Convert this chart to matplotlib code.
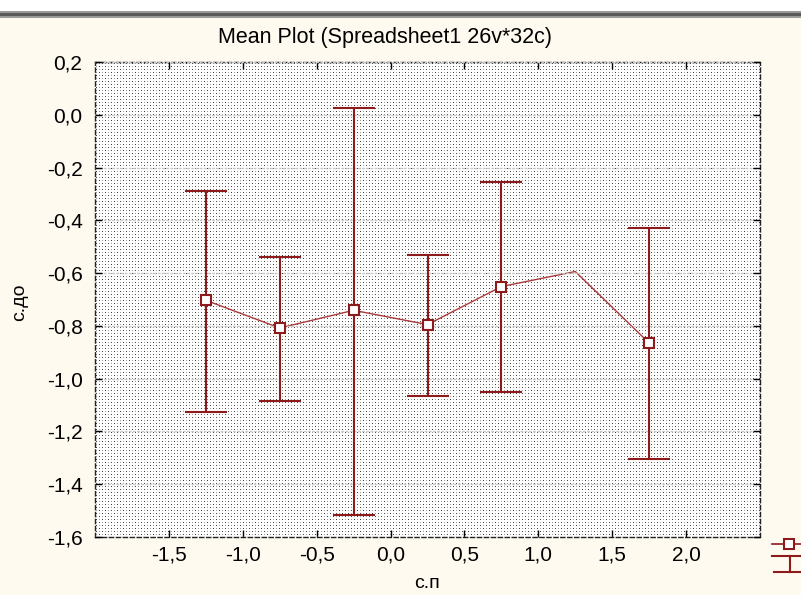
import numpy as np
import matplotlib
matplotlib.use("Agg")
import matplotlib.pyplot as plt
from matplotlib.lines import Line2D
from matplotlib.patches import Rectangle
from matplotlib.ticker import FuncFormatter

# group midpoints of c.п and mean of c.до with 95% limits
x_mid = [-1.25, -0.75, -0.25, 0.25, 0.75, 1.25, 1.75]
means = [-0.703, -0.808, -0.741, -0.795, -0.651, -0.594, -0.865]
upper = [-0.287, -0.540, 0.025, -0.531, -0.256, np.nan, -0.430]
lower = [-1.127, -1.085, -1.517, -1.065, -1.050, np.nan, -1.306]

x_ticks = [-1.5, -1.0, -0.5, 0.0, 0.5, 1.0, 1.5, 2.0]
y_ticks = [0.2, 0.0, -0.2, -0.4, -0.6, -0.8, -1.0, -1.2, -1.4, -1.6]

title = "Mean Plot (Spreadsheet1 26v*32c)"
x_name = "с.п"
y_name = "с.до"

plt.rcParams["font.family"] = ["Liberation Sans", "DejaVu Sans"]
plt.rcParams["font.size"] = 15

red = "#8e1b1b"
W, H = 801, 595
fig = plt.figure(figsize=(W / 100, H / 100), dpi=100, facecolor="#fffaf0")

# window chrome on top
fig.patches.append(Rectangle((0, 1 - 11 / H), 1, 11 / H, transform=fig.transFigure,
                             facecolor="white", edgecolor="none"))
fig.patches.append(Rectangle((0, 1 - 18 / H), 1, 7 / H, transform=fig.transFigure,
                             facecolor="#9a9a9a", edgecolor="none"))
fig.patches.append(Rectangle((0, 1 - 16 / H), 1, 3 / H, transform=fig.transFigure,
                             facecolor="#5a5a5a", edgecolor="none"))

left, right, top, bottom = 95, 760, 62, 537
ax = fig.add_axes([left / W, 1 - bottom / H, (right - left) / W, (bottom - top) / H])
ax.set_xlim(-2.0, 2.5)
ax.set_ylim(-1.6, 0.2)

# dotted background texture
ph, pw = bottom - top, right - left
tex = np.ones((ph, pw, 3))
yy, xx = np.mgrid[0:ph, 0:pw]
dots = (yy % 3 == 1) & (xx % 3 == 1)
dark = dots & (((yy // 3) + (xx // 3)) % 2 == 0)
light = dots & ~dark
tex[dark] = 0.25
tex[light] = 0.62
ax.imshow(tex, extent=(-2.0, 2.5, -1.6, 0.2), aspect="auto",
          interpolation="nearest", zorder=0)

ax.grid(axis="y", color="#c8c8c8", linestyle=(0, (2, 1)), linewidth=1, zorder=1)
ax.set_axisbelow(False)

m = np.array(means)
up = np.array(upper)
lo = np.array(lower)
ax.plot(x_mid, means, color="#a83a3a", linewidth=1, zorder=2)
ax.errorbar(x_mid, means, yerr=[m - lo, up - m], fmt="none", ecolor=red,
            elinewidth=1.5, capsize=15, capthick=1.5, zorder=3)
has_err = ~np.isnan(up)
ax.plot(np.array(x_mid)[has_err], m[has_err], linestyle="none", marker="s",
        markersize=7, markerfacecolor="white", markeredgecolor=red,
        markeredgewidth=1.5, zorder=4)

comma = FuncFormatter(lambda v, p: f"{v:.1f}".replace(".", ","))
ax.set_xticks(x_ticks)
ax.set_yticks(y_ticks)
ax.xaxis.set_major_formatter(comma)
ax.yaxis.set_major_formatter(comma)
ax.tick_params(direction="in", top=True, right=True, length=5, width=1,
               labelsize=15, colors="black")
ax.tick_params(axis="x", pad=6)
ax.tick_params(axis="y", pad=9)

for s in ax.spines.values():
    s.set_linestyle((0, (3, 2)))
    s.set_linewidth(1)
    s.set_color("#222222")

fig.text(385 / W, 1 - 38 / H, title, ha="center", va="center", fontsize=15.5)
fig.text(427 / W, 1 - 583 / H, x_name, ha="center", va="center", fontsize=14)
fig.text(20 / W, 1 - 302 / H, y_name, ha="center", va="center",
         rotation=90, fontsize=14)

# legend symbols, cut by the right edge like the original
tf = fig.transFigure
fig.lines.append(Line2D([772 / W, 1.0], [1 - 544 / H] * 2, transform=tf,
                        color=red, linewidth=1.2))
fig.lines.append(Line2D([789 / W], [1 - 544 / H], transform=tf, marker="s",
                        markersize=7, markerfacecolor="white",
                        markeredgecolor=red, markeredgewidth=1.5))
fig.lines.append(Line2D([772 / W, 1.0], [1 - 556 / H] * 2, transform=tf,
                        color=red, linewidth=1.5))
fig.lines.append(Line2D([774 / W, 1.0], [1 - 572 / H] * 2, transform=tf,
                        color=red, linewidth=1.5))
fig.lines.append(Line2D([790 / W] * 2, [1 - 556 / H, 1 - 572 / H], transform=tf,
                        color=red, linewidth=1.5))

fig.savefig("out.png", dpi=100, facecolor=fig.get_facecolor())
